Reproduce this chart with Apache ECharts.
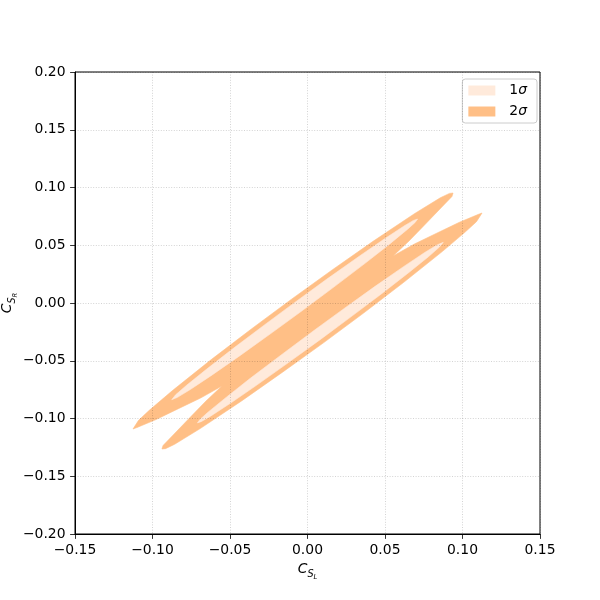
<!DOCTYPE html>
<html>
<head>
<meta charset="utf-8">
<script src="https://cdn.jsdelivr.net/npm/echarts@6/dist/echarts.min.js"></script>
<style>html,body{margin:0;padding:0;background:#fff}#c{width:600px;height:600px}</style>
</head>
<body>
<div id="c"></div>
<script>
// ---- data ----
const xTicks = [-0.15, -0.10, -0.05, 0.00, 0.05, 0.10, 0.15];
const yTicks = [-0.20, -0.15, -0.10, -0.05, 0.00, 0.05, 0.10, 0.15, 0.20];
const legendNames = ['1σ', '2σ'];

// 2σ contour (outer boundary, with the two notches)
const contour2Sigma = [
  [-0.1126,-0.1091],[-0.1090,-0.1016],[-0.1019,-0.0927],[-0.0871,-0.0758],[-0.0619,-0.0488],
  [-0.0362,-0.0225],[-0.0103,0.0033],[0.0159,0.0286],[0.0423,0.0534],[0.0692,0.0775],
  [0.0857,0.0911],[0.0916,0.0949],[0.0939,0.0952],[0.0932,0.0922],[0.0848,0.0805],
  [0.0752,0.0671],[0.0655,0.0537],[0.0552,0.0407],[0.0690,0.0511],[0.0833,0.0604],
  [0.0977,0.0697],[0.1100,0.0766],[0.1126,0.0779],[0.1090,0.0704],[0.1019,0.0616],
  [0.0871,0.0447],[0.0619,0.0177],[0.0362,-0.0087],[0.0103,-0.0345],[-0.0159,-0.0597],
  [-0.0423,-0.0846],[-0.0692,-0.1087],[-0.0857,-0.1223],[-0.0916,-0.1261],[-0.0939,-0.1264],
  [-0.0932,-0.1234],[-0.0848,-0.1117],[-0.0752,-0.0983],[-0.0655,-0.0849],[-0.0552,-0.0719],
  [-0.0690,-0.0823],[-0.0833,-0.0915],[-0.0977,-0.1009],[-0.1100,-0.1078]
];
// 1σ contour, upper-left strip
const contour1SigmaA = [
  [-0.0876,-0.0837],[-0.0851,-0.0795],[-0.0778,-0.0710],[-0.0652,-0.0574],[-0.0474,-0.0388],
  [-0.0267,-0.0179],[-0.0086,0.0001],[0.0123,0.0205],[0.0334,0.0405],[0.0493,0.0552],
  [0.0628,0.0671],[0.0684,0.0715],[0.0710,0.0727],[0.0694,0.0697],[0.0646,0.0639],
  [0.0521,0.0501],[0.0369,0.0341],[0.0163,0.0131],[-0.0044,-0.0076],[-0.0226,-0.0254],
  [-0.0436,-0.0456],[-0.0622,-0.0629],[-0.0756,-0.0749],[-0.0839,-0.0817]
];
// 1σ contour, lower-right strip
const contour1SigmaB = [
  [0.0876,0.0525],[0.0851,0.0484],[0.0778,0.0398],[0.0652,0.0262],[0.0474,0.0076],
  [0.0267,-0.0133],[0.0086,-0.0313],[-0.0123,-0.0516],[-0.0334,-0.0717],[-0.0493,-0.0864],
  [-0.0628,-0.0982],[-0.0684,-0.1026],[-0.0710,-0.1038],[-0.0694,-0.1009],[-0.0646,-0.0950],
  [-0.0521,-0.0813],[-0.0369,-0.0652],[-0.0163,-0.0443],[0.0044,-0.0236],[0.0226,-0.0058],
  [0.0436,0.0144],[0.0622,0.0317],[0.0756,0.0437],[0.0839,0.0505]
];

const color2 = '#ffbf86';
const color1 = '#ffeadb';
const FONT = 'DejaVu Sans';

function fmt(v) {
  const r = Math.round(v * 100) / 100;
  if (Math.abs(r) < 1e-9) return '0.00';
  return (r < 0 ? '\u2212' : '') + Math.abs(r).toFixed(2);
}

function polyRenderer(polys, color) {
  return function (params, api) {
    if (params.dataIndex !== 0) return null;
    return {
      type: 'group',
      children: polys.map(function (poly) {
        return {
          type: 'polygon',
          shape: { points: poly.map(function (p) { return api.coord(p); }) },
          style: { fill: color, stroke: color, lineWidth: 0.6 }
        };
      })
    };
  };
}

const splitStyle = { color: 'rgba(0,0,0,0.22)', width: 0.8, type: [1, 1.6] };

const nameRich = function (subKey) {
  const r = {
    c: { fontFamily: FONT, fontSize: 13.9, fontStyle: 'italic', color: '#000', verticalAlign: 'bottom', padding: [0, 0, 5, 0] },
    s: { fontFamily: FONT, fontSize: 9.7, fontStyle: 'italic', color: '#000', verticalAlign: 'bottom', padding: [0, 0, 2, 0] }
  };
  r[subKey] = { fontFamily: FONT, fontSize: 6.8, fontStyle: 'italic', color: '#000', verticalAlign: 'bottom', padding: [0, 0, 0, 0] };
  return r;
};

const chart = echarts.init(document.getElementById('c'), null, { renderer: 'canvas' });
chart.setOption({
  animation: false,
  backgroundColor: '#fff',
  grid: {
    left: 75, right: 60, top: 72, bottom: 66,
    containLabel: false, outerBoundsMode: 'none',
    show: true, borderColor: '#000', borderWidth: 1, backgroundColor: 'transparent'
  },
  legend: {
    data: legendNames,
    orient: 'vertical',
    right: 63, top: 79,
    padding: [4, 10, 4, 6],
    itemGap: 6,
    itemWidth: 27, itemHeight: 10,
    icon: 'rect',
    backgroundColor: 'rgba(255,255,255,0.8)',
    borderColor: '#cccccc', borderWidth: 1, borderRadius: 3,
    selectedMode: false,
    formatter: function (name) { return '{n|' + name.charAt(0) + '}{i|σ}'; },
    textStyle: {
      fontFamily: FONT, fontSize: 13.9, color: '#000', lineHeight: 15, padding: [0, 0, 0, 9],
      rich: {
        n: { fontFamily: FONT, fontSize: 13.9, color: '#000' },
        i: { fontFamily: FONT, fontSize: 13.9, fontStyle: 'italic', color: '#000' }
      }
    }
  },
  xAxis: {
    type: 'value', min: xTicks[0], max: xTicks[xTicks.length - 1], interval: 0.05, z: 10,
    name: '{c|C}{s|S}{l|L}', nameLocation: 'middle', nameGap: 28, nameMoveOverlap: false,
    nameTextStyle: { rich: nameRich('l') },
    axisLine: { show: true, onZero: false, lineStyle: { color: '#000', width: 1 } },
    axisTick: { show: true, length: 4.9, lineStyle: { color: '#000', width: 0.8 } },
    axisLabel: { margin: 9.5, fontFamily: FONT, fontSize: 13.9, color: '#000', formatter: fmt, showMinLabel: true, showMaxLabel: true },
    splitLine: { show: true, lineStyle: splitStyle }
  },
  yAxis: {
    type: 'value', min: yTicks[0], max: yTicks[yTicks.length - 1], interval: 0.05, z: 10,
    name: '{c|C}{s|S}{r|R}', nameLocation: 'middle', nameGap: 56, nameRotate: 90, nameMoveOverlap: false,
    nameTextStyle: { rich: nameRich('r') },
    axisLine: { show: true, onZero: false, lineStyle: { color: '#000', width: 1 } },
    axisTick: { show: true, length: 4.9, lineStyle: { color: '#000', width: 0.8 } },
    axisLabel: { margin: 9.5, fontFamily: FONT, fontSize: 13.9, color: '#000', formatter: fmt, showMinLabel: true, showMaxLabel: true },
    splitLine: { show: true, lineStyle: splitStyle }
  },
  series: [
    {
      name: '2σ', type: 'custom', coordinateSystem: 'cartesian2d', clip: true, z: 2,
      itemStyle: { color: color2 },
      encode: { x: 0, y: 1 },
      data: contour2Sigma,
      renderItem: polyRenderer([contour2Sigma], color2)
    },
    {
      name: '1σ', type: 'custom', coordinateSystem: 'cartesian2d', clip: true, z: 3,
      itemStyle: { color: color1 },
      encode: { x: 0, y: 1 },
      data: contour1SigmaA.concat(contour1SigmaB),
      renderItem: polyRenderer([contour1SigmaA, contour1SigmaB], color1)
    }
  ]
});
</script>
</body>
</html>
